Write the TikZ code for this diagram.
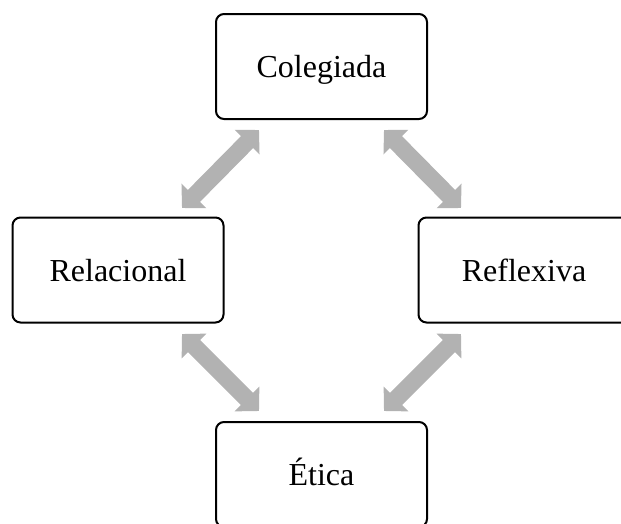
\documentclass[tikz,border=0pt]{standalone}
\usepackage{fontspec}
\setmainfont{Liberation Serif}
\usetikzlibrary{arrows.meta}
\definecolor{arrowgray}{RGB}{178,178,178}
\begin{document}
\begin{tikzpicture}[x=1pt,y=-1pt,
  box/.style={draw=black, line width=2pt, rounded corners=8pt, fill=white,
    minimum width=211pt, minimum height=105pt, inner sep=0pt,
    text height=22pt, text depth=0pt,
    font=\fontsize{32}{38}\selectfont},
  dblarrow/.style={draw=arrowgray, line width=17pt,
    {Triangle[length=17pt,width=34pt]}-{Triangle[length=17pt,width=34pt]}}]
\useasboundingbox (0,0) rectangle (621,523);
\clip (0,0) rectangle (621,523);
\node[box] (col) at (321.5,66.5) {Colegiada};
\node[box] (rel) at (118,270) {Relacional};
\node[box] (ref) at (524,270) {Reflexiva};
\node[box] (eti) at (321.5,474.5) {Ética};
\coordinate (tlA) at (182,208);
\coordinate (tlB) at (259,130);
\coordinate (trA) at (384,130);
\coordinate (trB) at (461,208);
\coordinate (blA) at (182,334);
\coordinate (blB) at (259,411);
\coordinate (brA) at (384,411);
\coordinate (brB) at (461,334);
\draw[dblarrow] (tlA) -- (tlB);
\draw[dblarrow] (trA) -- (trB);
\draw[dblarrow] (blA) -- (blB);
\draw[dblarrow] (brA) -- (brB);
\end{tikzpicture}
\end{document}
